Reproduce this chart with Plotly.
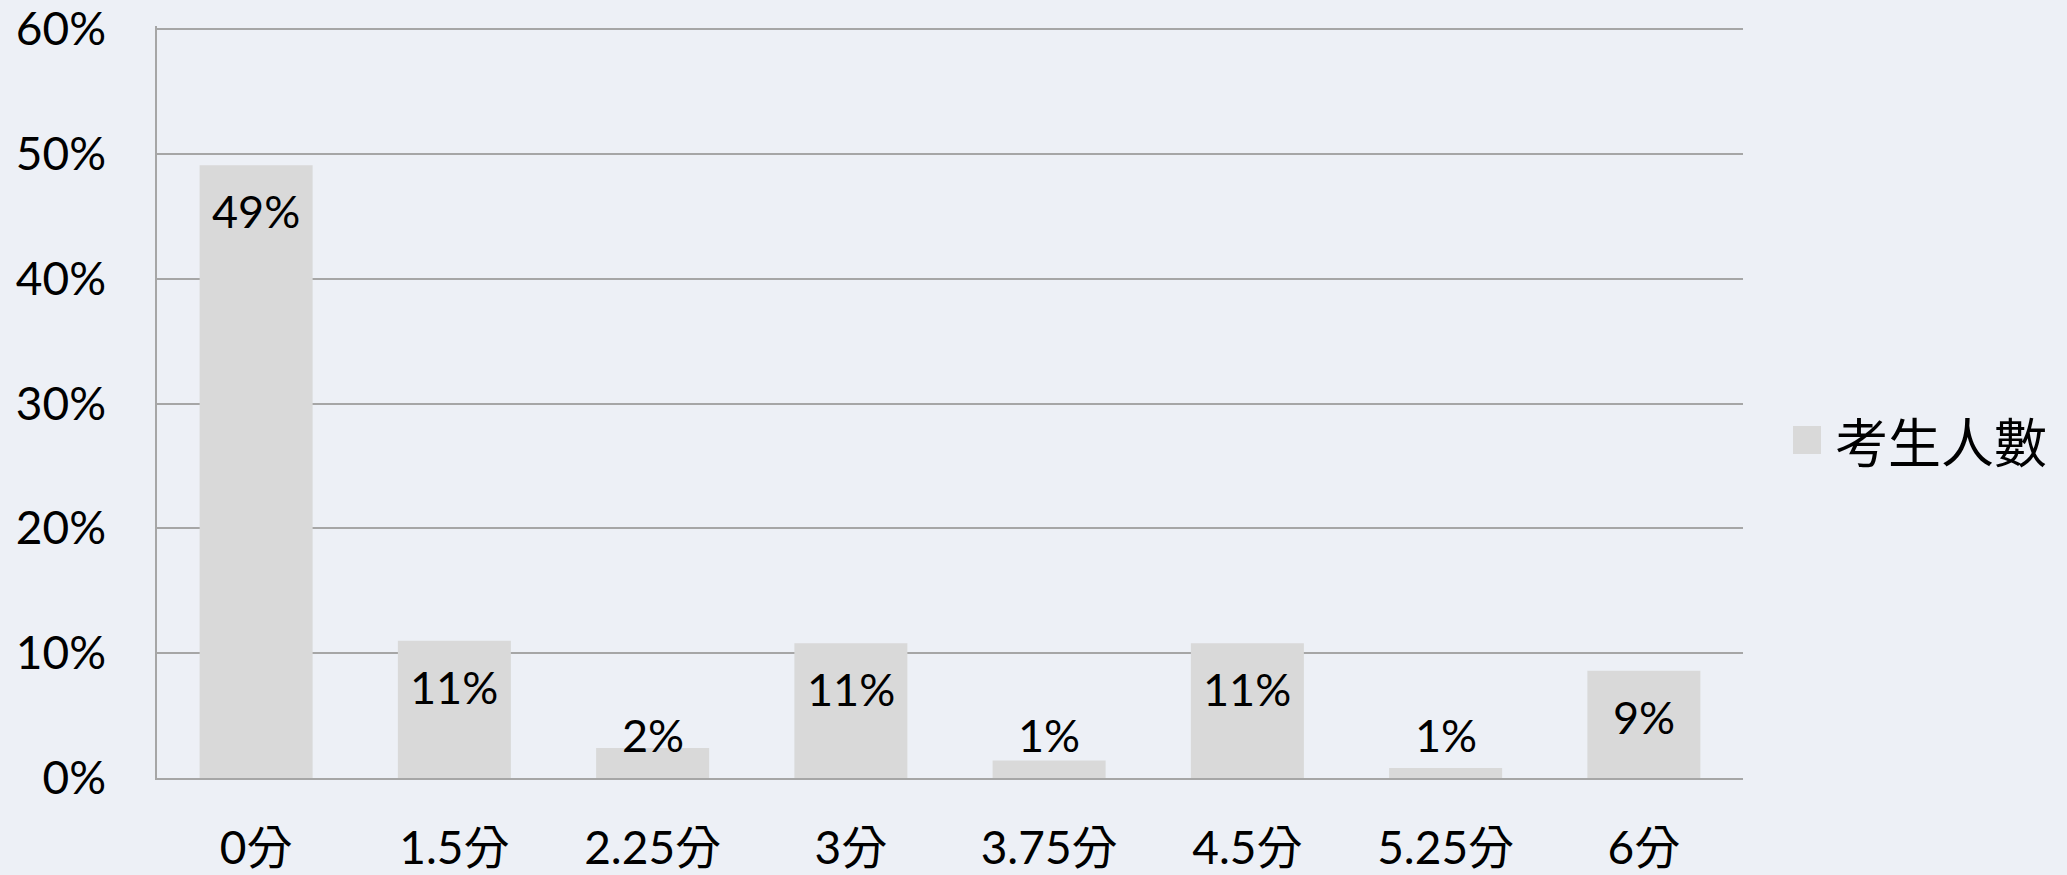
import plotly.graph_objects as go

categories = ["0分", "1.5分", "2.25分", "3分", "3.75分", "4.5分", "5.25分", "6分"]
share = [0.491, 0.110, 0.024, 0.108, 0.014, 0.108, 0.008, 0.086]
series_name = "考生人數"
y_ticks = [0, 0.1, 0.2, 0.3, 0.4, 0.5, 0.6]

BAR = "#d9d9d9"
GRID = "#a6a6a6"
BG = "#edf0f6"
FONT = "Lato, 'Noto Sans CJK TC', sans-serif"
CJK = "'Noto Sans CJK TC', sans-serif"

W, H = 2067, 875
L, R, T, B = 157, 324, 26, 97
Y_MAX = 0.6025   # a hair above 60% so the top gridline is drawn

fig = go.Figure()
fig.add_trace(go.Bar(
    x=categories, y=share, name=series_name,
    marker=dict(color=BAR, line=dict(width=0)),
    showlegend=False, hoverinfo="x+y",
))

# data labels (Excel "inside end" style, clamped near the axis for short bars)
for c, v in zip(categories, share):
    inside = v > 0.07
    fig.add_annotation(
        x=c, y=v if inside else 0, xref="x", yref="y",
        text=f"{v*100:.0f}%", showarrow=False,
        yshift=-46 if inside else 43, yanchor="middle",
        font=dict(family=FONT, size=45, color="#000000"),
    )

pw, ph = W - L - R, H - T - B
# legend drawn manually (large square marker)
fig.add_shape(type="rect", xref="paper", yref="paper",
              x0=(1793-L)/pw, x1=(1821-L)/pw,
              y0=(H-B-454)/ph, y1=(H-B-426)/ph,
              fillcolor=BAR, line=dict(width=0))
fig.add_annotation(xref="paper", yref="paper",
                   x=(1833-L)/pw, y=(H-B-440)/ph,
                   xanchor="left", yanchor="middle", showarrow=False,
                   text=series_name,
                   font=dict(family=CJK, size=53, color="#000000"))

fig.update_layout(
    width=W, height=H,
    margin=dict(l=L, r=R, t=T, b=B, autoexpand=False),
    paper_bgcolor=BG,
    plot_bgcolor="rgba(0,0,0,0)",
    bargap=0.43,
    showlegend=False,
    font=dict(family=FONT, size=45, color="#000000"),
)
fig.update_xaxes(
    showgrid=False, showline=True, linecolor=GRID, linewidth=1.5,
    ticks="", ticklabelstandoff=29, automargin=False,
    tickfont=dict(family=FONT, size=46, color="#000000"),
)
fig.update_yaxes(
    range=[0, Y_MAX], tickvals=y_ticks, tickformat=".0%",
    showgrid=True, gridcolor=GRID, gridwidth=1.5,
    showline=True, linecolor=GRID, linewidth=1.5,
    zeroline=False, ticks="", ticklabelstandoff=40, automargin=False,
    tickfont=dict(family=FONT, size=46, color="#000000"),
)

fig.write_html(
    "out.html",
    config={"displayModeBar": False},
    post_script=f"document.body.style.margin='0';document.body.style.background='{BG}';",
)
